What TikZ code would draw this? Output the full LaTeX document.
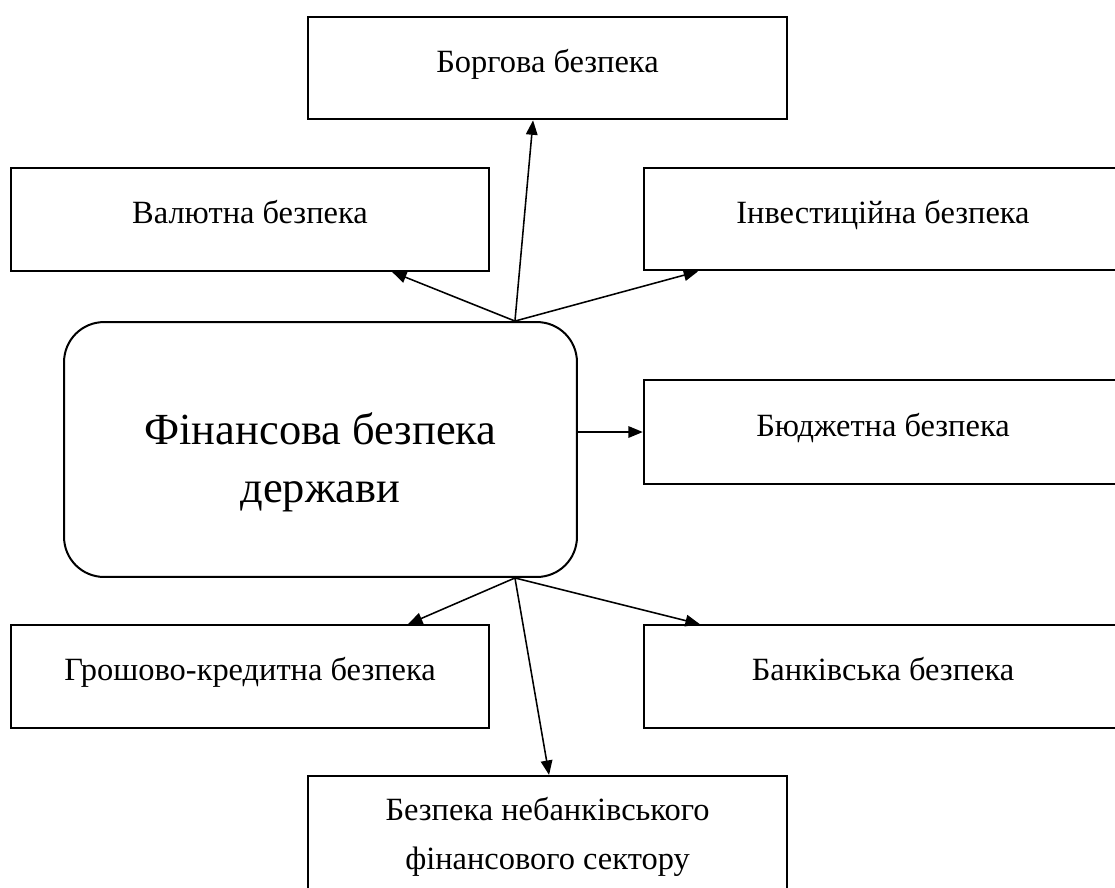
\documentclass[tikz,border=0pt]{standalone}
\usepackage{fontspec}
\setmainfont{Liberation Serif}
\usetikzlibrary{arrows.meta}
\begin{document}
\begin{tikzpicture}[x=0.45pt,y=-0.45pt,
  box/.style={draw,line width=0.9pt,minimum width=215.3pt,minimum height=46.2pt,inner sep=0pt,
    font=\fontsize{14.6}{16}\selectfont,text height=0.72em,text depth=0.36em},
  centerbox/.style={draw,line width=0.9pt,rounded corners=18pt,minimum width=230.8pt,minimum height=114.7pt,inner sep=0pt},
  arr/.style={line width=0.7pt,-{Triangle[length=6.5pt,width=5.2pt]}}
]
\useasboundingbox (0,0) rectangle (1115,887);
\clip (0,0) rectangle (1115,887);

\node[box] (borg) at (547.5,68) {Боргова безпека};
\node[box] (val) at (250,219.5) {Валютна безпека};
\node[box] (inv) at (883,219) {Інвестиційна безпека};
\node[centerbox] (fin) at (320.5,449.5) {};
\node[font=\fontsize{20}{26}\selectfont,align=center,inner sep=0pt] (fintext) at (320.5,462.5) {Фінансова безпека\\держави};
\node[box,minimum height=46.6pt] (bud) at (883,432) {Бюджетна безпека};
\node[box] (grosh) at (250,676.5) {Грошово-кредитна безпека};
\node[box] (bank) at (883,676.5) {Банківська безпека};
\node[box,minimum height=55pt,align=center,text height=,text depth=,font=\fontsize{14.6}{22}\selectfont] (nebank) at (547.5,837) {Безпека небанківського\\фінансового сектору};

\draw[arr] ([xshift=87.5pt]fin.north) -- ([xshift=-6.5pt]borg.south);
\draw[arr] ([xshift=87.5pt]fin.north) -- ([xshift=63.9pt]val.south);
\draw[arr] ([xshift=87.5pt]fin.north) -- ([xshift=-83.2pt]inv.south);
\draw[arr] (fin.east |- bud.west) -- (bud.west);
\draw[arr] ([xshift=87.5pt]fin.south) -- ([xshift=71.1pt]grosh.north);
\draw[arr] ([xshift=87.5pt]fin.south) -- ([xshift=-82.4pt]bank.north);
\draw[arr] ([xshift=87.5pt]fin.south) -- ([xshift=0.7pt]nebank.north);
\end{tikzpicture}
\end{document}
